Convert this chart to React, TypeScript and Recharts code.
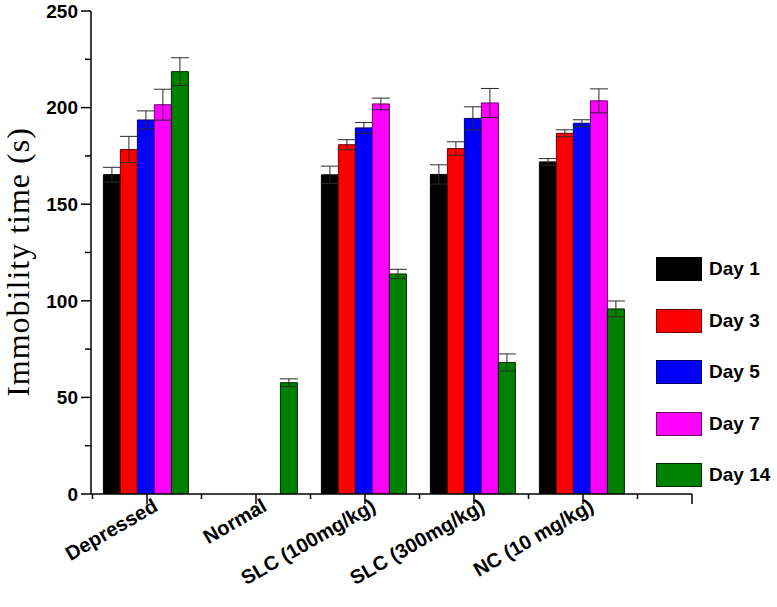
import React from 'react';
import { BarChart, Bar, XAxis, YAxis, ErrorBar, Legend } from 'recharts';

const categories = ['Depressed', 'Normal', 'SLC (100mg/kg)', 'SLC (300mg/kg)', 'NC (10 mg/kg)'];
const seriesNames = ['Day 1', 'Day 3', 'Day 5', 'Day 7', 'Day 14'];

const day1 = [165.3, null, 165.2, 165.4, 171.9];
const day1Err = [3.8, null, 4.5, 5.0, 1.7];
const day3 = [178.3, null, 180.8, 178.8, 186.7];
const day3Err = [6.8, null, 2.6, 3.5, 1.8];
const day5 = [193.6, null, 189.5, 194.4, 191.9];
const day5Err = [4.7, null, 2.8, 6.0, 1.8];
const day7 = [201.5, null, 201.9, 202.4, 203.5];
const day7Err = [8.0, null, 3.0, 7.5, 6.2];
const day14 = [218.6, 57.6, 113.9, 68.1, 95.8];
const day14Err = [7.2, 2.0, 2.4, 4.4, 4.1];

const yTicks = [0, 25, 50, 75, 100, 125, 150, 175, 200, 225, 250];

const fills = ['#000000', '#ff0000', '#0000ff', '#ff00ff', '#008000'];
const strokes = ['#000000', '#6e0000', '#00006e', '#700070', '#002800'];

const valueSeries = [day1, day3, day5, day7, day14];
const errSeries = [day1Err, day3Err, day5Err, day7Err, day14Err];

const data = categories.map((name, i) => {
  const row: any = { name };
  valueSeries.forEach((s, k) => {
    row['v' + k] = s[i];
    row['e' + k] = errSeries[k][i];
  });
  return row;
});

const SANS = '"Liberation Sans", Arial, sans-serif';
const SERIF = '"Liberation Serif", "Times New Roman", serif';
const HALF = 54.5;

function XTick(props: any) {
  const { x, y, payload, index } = props;
  const last = index === categories.length - 1;
  const tx = x + 12;
  const ty = y + 16;
  return (
    <g>
      <line x1={x} x2={x} y1={y} y2={y + 10} stroke="#000" strokeWidth={1.5} />
      <line x1={x - HALF} x2={x - HALF} y1={y} y2={y + 5} stroke="#000" strokeWidth={1.5} />
      {last && (
        <g>
          <line x1={x + HALF} x2={x + HALF} y1={y} y2={y + 5} stroke="#000" strokeWidth={1.5} />
          <line x1={x + 2 * HALF} x2={x + 2 * HALF} y1={y} y2={y + 10} stroke="#000" strokeWidth={1.5} />
        </g>
      )}
      <text
        x={tx}
        y={ty}
        transform={`rotate(-30 ${tx} ${ty})`}
        textAnchor="end"
        fontFamily={SANS}
        fontWeight="bold"
        fontSize={20}
        fill="#000"
      >
        {payload.value}
      </text>
    </g>
  );
}

function YTick(props: any) {
  const { x, y, payload } = props;
  const major = payload.value % 50 === 0;
  return (
    <g>
      <line x1={x - (major ? 10 : 6)} x2={x} y1={y} y2={y} stroke="#000" strokeWidth={1.5} />
      {major && (
        <text
          x={x - 13}
          y={y}
          dy="0.36em"
          textAnchor="end"
          fontFamily={SANS}
          fontWeight="bold"
          fontSize={19}
          fill="#000"
        >
          {payload.value}
        </text>
      )}
    </g>
  );
}

const renderLegend = (props: any) => {
  const items = [...(props.payload || [])].sort(
    (a: any, b: any) => seriesNames.indexOf(a.value) - seriesNames.indexOf(b.value)
  );
  return (
    <div style={{ display: 'flex', flexDirection: 'column' }}>
      {items.map((p: any, i: number) => {
        const idx = seriesNames.indexOf(p.value);
        return (
          <div
            key={p.value}
            style={{ display: 'flex', alignItems: 'center', height: 24, marginBottom: i < 4 ? 27.5 : 0 }}
          >
            <div
              style={{
                width: 44,
                height: 22,
                background: fills[idx],
                border: '1px solid ' + strokes[idx],
              }}
            />
            <span style={{ marginLeft: 7, fontFamily: SANS, fontWeight: 'bold', fontSize: 19, color: '#000' }}>
              {p.value}
            </span>
          </div>
        );
      })}
    </div>
  );
};

export default function App() {
  return (
    <div style={{ position: 'absolute', left: 0, top: 0, width: 777, height: 607, background: '#fff' }}>
      <BarChart
        width={777}
        height={607}
        data={data}
        margin={{ top: 11, right: 85, bottom: 0, left: 0 }}
        barGap={0}
        barCategoryGap="10%"
      >
        <XAxis
          dataKey="name"
          type="category"
          height={113}
          padding={{ left: 1.5, right: 54.5 }}
          axisLine={{ stroke: '#000', strokeWidth: 1.5 }}
          tickLine={false}
          tickSize={0}
          tickMargin={0}
          tick={<XTick />}
          interval={0}
        />
        <YAxis
          type="number"
          domain={[0, 250]}
          ticks={yTicks}
          width={91}
          axisLine={{ stroke: '#000', strokeWidth: 1.5 }}
          tickLine={false}
          tickSize={0}
          tickMargin={0}
          tick={<YTick />}
          interval={0}
          allowDataOverflow
        />
        {seriesNames.map((nm, k) => (
          <Bar
            key={nm}
            dataKey={'v' + k}
            name={nm}
            fill={fills[k]}
            stroke={strokes[k]}
            strokeWidth={1}
            isAnimationActive={false}
          >
            <ErrorBar dataKey={'e' + k} width={9} stroke="#2a2a2a" strokeWidth={1} direction="y" />
          </Bar>
        ))}
        <Legend
          layout="vertical"
          align="center"
          verticalAlign="middle"
          content={renderLegend}
          wrapperStyle={{ left: 656, top: 257, width: 121, height: 240 }}
        />
        <text
          x={0}
          y={0}
          transform="translate(29 262) rotate(-90)"
          textAnchor="middle"
          fontFamily={SERIF}
          fontSize={32}
          letterSpacing={1}
          fill="#000"
        >
          Immobility time (s)
        </text>
      </BarChart>
    </div>
  );
}
